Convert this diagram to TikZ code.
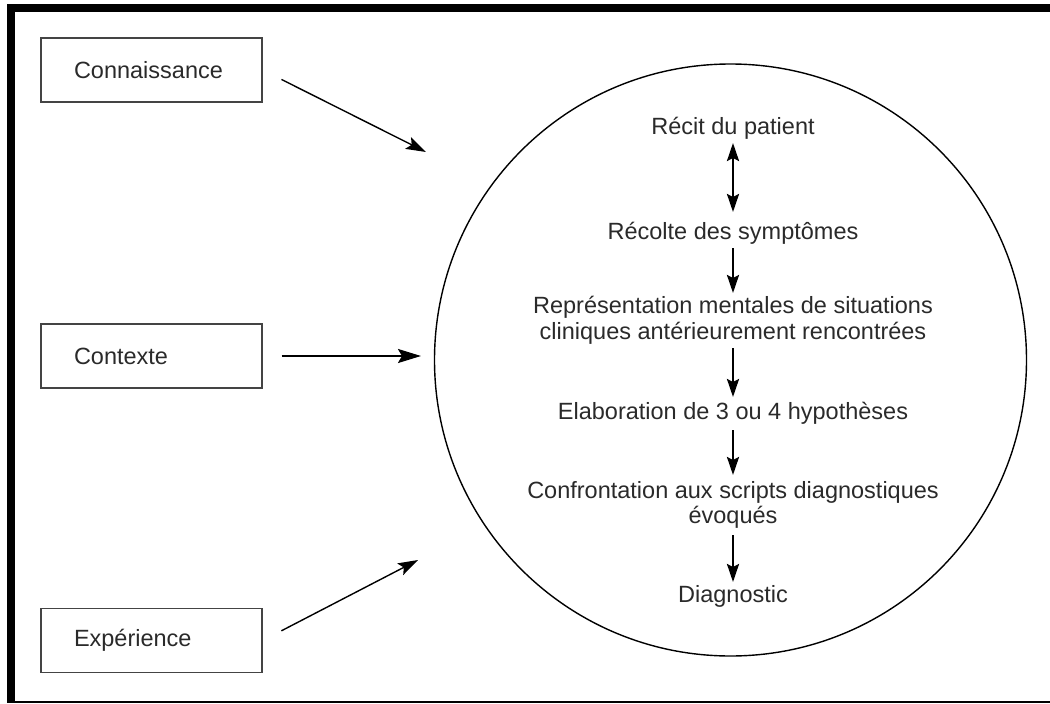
\documentclass[tikz,border=0pt]{standalone}
\usepackage{fontspec}
\setmainfont{Liberation Sans}
\usetikzlibrary{arrows.meta}
\definecolor{txt}{HTML}{2A2A2A}
\definecolor{boxline}{HTML}{444444}
\begin{document}
\begin{tikzpicture}[x=1pt,y=-1pt,
  every node/.style={font=\fontsize{23.5}{25.5}\selectfont, text=txt},
  sidebox/.style={draw=boxline, line width=1.4pt, minimum width=221pt, minimum height=64pt,
    text width=155pt, align=left, inner xsep=33pt, inner ysep=0pt},
  flowtext/.style={align=center, inner sep=0pt},
  sidearrow/.style={line width=1.4pt, -{Stealth[length=20pt,width=13pt,inset=4pt]}},
  sidearrowh/.style={line width=2.2pt, -{Stealth[length=23pt,width=14pt,inset=4pt]}},
  vertarrow/.style={line width=2.4pt, -{Stealth[length=18pt,width=12pt,inset=3pt]}},
  dblarrow/.style={line width=2.4pt, {Stealth[length=18pt,width=12pt,inset=3pt]}-{Stealth[length=18pt,width=12pt,inset=3pt]}}
]
\useasboundingbox (0,0) rectangle (1050,704);
% frame
\fill[black] (7,4) rectangle (1050,12);
\fill[black] (7,4) rectangle (15,703);
\fill[black] (7,701) rectangle (1050,703);

% side boxes
\node[sidebox] (conn) at (151.5,70) {Connaissance};
\node[sidebox] (ctx) at (151.5,356) {Contexte};
\node[sidebox] (exp) at (151.5,640.5) {Expérience};

% circle
\node[circle, draw=black, line width=1.4pt, minimum size=592pt, inner sep=0pt] (circ) at (730.5,360) {};

% arrow end points
\coordinate (c1) at (426,152);
\coordinate (c2) at (421,356);
\coordinate (c3) at (418,560);

\draw[sidearrow, shorten <=21pt] (conn.east) -- (c1);
\draw[sidearrowh, shorten <=19pt] (ctx.east) -- (c2);
\draw[sidearrow, shorten <=21pt] (exp.east) -- (c3);

% flow inside circle
\node[flowtext] (recit) at (733,128) {Récit du patient};
\node[flowtext] (recolte) at (733,233) {Récolte des symptômes};
\node[flowtext] (repr) at (733,320.5) {Représentation mentales de situations\\cliniques antérieurement rencontrées};
\node[flowtext] (elab) at (733,413) {Elaboration de 3 ou 4 hypothèses};
\node[flowtext] (conf) at (733,505) {Confrontation aux scripts diagnostiques\\évoqués};
\node[flowtext] (diag) at (733,596) {Diagnostic};

\draw[dblarrow, shorten <=15pt, shorten >=21pt] (recit.center) -- (recolte.center);
\draw[vertarrow, shorten <=15pt, shorten >=27.5pt] (recolte.center) -- (repr.center);
\draw[vertarrow, shorten <=27.5pt, shorten >=16pt] (repr.center) -- (elab.center);
\draw[vertarrow, shorten <=17pt, shorten >=30pt] (elab.center) -- (conf.center);
\draw[vertarrow, shorten <=30pt, shorten >=14pt] (conf.center) -- (diag.center);
\end{tikzpicture}
\end{document}
